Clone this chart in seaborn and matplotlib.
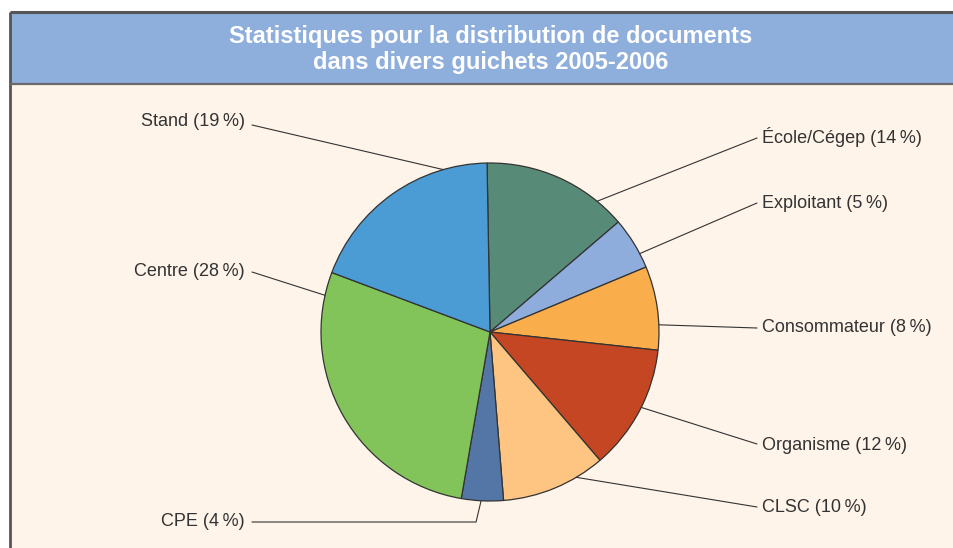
import numpy as np
import matplotlib
matplotlib.use("Agg")
import matplotlib.pyplot as plt
import seaborn as sns
from matplotlib.patches import Rectangle

sns.set_theme(style="white")
plt.rcParams['font.family'] = ['Liberation Sans', 'DejaVu Sans']

# ---- data ----
categories = ["École/Cégep", "Exploitant", "Consommateur", "Organisme",
              "CLSC", "CPE", "Centre", "Stand"]
values = [14, 5, 8, 12, 10, 4, 28, 19]
colors = ["#578a77", "#8eaddd", "#f9ad4b", "#c44622",
          "#fdc581", "#5376a6", "#82c45a", "#4b9bd5"]
title_lines = ["Statistiques pour la distribution de documents",
               "dans divers guichets 2005-2006"]

W, H = 954, 548
fig = plt.figure(figsize=(W / 100, H / 100), dpi=100)
fig.patch.set_facecolor("white")
ax = fig.add_axes([0, 0, 1, 1])
ax.set_xlim(0, W)
ax.set_ylim(0, H)
ax.set_aspect("equal")
ax.axis("off")

def Y(y):
    return H - y

# frame
ax.add_patch(Rectangle((10, 0), W - 10, Y(84), facecolor="#fef4ea", edgecolor="none", zorder=0))
ax.add_patch(Rectangle((10, Y(84)), W - 10, 72, facecolor="#8eaedc", edgecolor="none", zorder=0))
ax.plot([10, W], [Y(12), Y(12)], color="#555555", lw=2.2, zorder=1, solid_capstyle="butt")
ax.plot([10, 10], [0, Y(12)], color="#555555", lw=2.0, zorder=1, solid_capstyle="butt")
ax.plot([10, W], [Y(84), Y(84)], color="#6a6a6a", lw=1.6, zorder=1, solid_capstyle="butt")

ax.text(491, Y(37), title_lines[0], ha="center", va="center", color="white",
        fontsize=17, fontweight="bold")
ax.text(491, Y(62), title_lines[1], ha="center", va="center", color="white",
        fontsize=17, fontweight="bold")

# pie
cx, cy, r = 490, Y(332), 169
start = 91
wedges, _ = ax.pie(values, colors=colors, startangle=start, counterclock=False,
                   center=(cx, cy), radius=r, frame=True,
                   wedgeprops=dict(edgecolor="#333333", linewidth=0.9))
ax.set_xlim(0, W)
ax.set_ylim(0, H)
ax.axis("off")

# label layout
anchor_frac = [0.80, 0.72, 0.70, 0.47, 0.275, 0.53, 0.92, 0.78]
line_end = [(757, 138), (757, 203), (757, 328), (757, 444), (757, 507),
            (252, 522), (252, 272), (252, 125)]
text_pos = [(762, 137), (762, 203), (762, 328), (762, 446), (762, 507),
            (245, 521), (245, 272), (245, 122)]

for w, cat, v, f, le, tp in zip(wedges, categories, values, anchor_frac, line_end, text_pos):
    ang = np.deg2rad(w.theta1 + (1 - f) * (w.theta2 - w.theta1))
    ax_, ay_ = cx + r * np.cos(ang), cy + r * np.sin(ang)
    if cat == "CPE":
        xs = [ax_, ax_ - 5, le[0]]
        ys = [ay_, Y(le[1]), Y(le[1])]
    else:
        xs = [ax_, le[0]]
        ys = [ay_, Y(le[1])]
    ax.plot(xs, ys, color="#333333", lw=0.8, zorder=3)
    ha = "left" if tp[0] > cx else "right"
    ax.text(tp[0], Y(tp[1]), f"{cat} ({v}\u2009%)", ha=ha, va="center",
            fontsize=13, color="#333333")

fig.savefig("out.png", dpi=100, facecolor="white")
